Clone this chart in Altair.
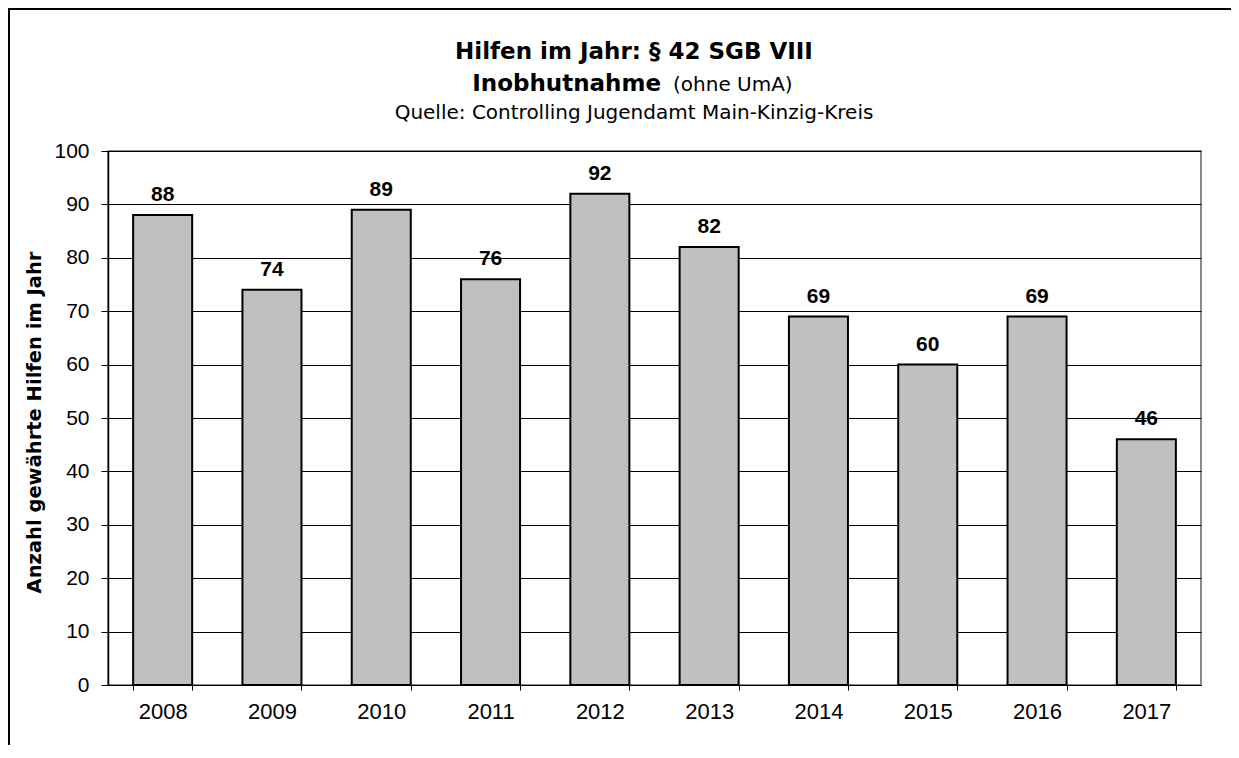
import altair as alt
import pandas as pd

# --- data ---
years = ["2008", "2009", "2010", "2011", "2012", "2013", "2014", "2015", "2016", "2017"]
values = [88, 74, 89, 76, 92, 82, 69, 60, 69, 46]
y_ticks = [0, 10, 20, 30, 40, 50, 60, 70, 80, 90, 100]

title_line1 = "Hilfen im Jahr: § 42 SGB VIII"
title_line2_bold = "Inobhutnahme"
title_line2_regular = "(ohne UmA)"
title_line3 = "Quelle: Controlling Jugendamt Main-Kinzig-Kreis"
y_title = "Anzahl gewährte Hilfen im Jahr"

df = pd.DataFrame({"year": years, "value": values})

W, H = 1093, 534

x_enc = alt.X(
    "year:N",
    sort=years,
    scale=alt.Scale(paddingInner=0.46, paddingOuter=0.23),
    axis=alt.Axis(
        title=None,
        labelAngle=0,
        tickBand="extent",
        ticks=True,
        tickSize=5,
        tickColor="black",
        domainColor="black",
        domainWidth=1,
        labelPadding=11,
        labelFont="Liberation Sans",
        labelFontSize=22,
        labelColor="black",
        grid=False,
    ),
)

y_enc = alt.Y(
    "value:Q",
    scale=alt.Scale(domain=[0, 100]),
    axis=alt.Axis(
        values=y_ticks,
        title=y_title,
        titleFont="DejaVu Sans",
        titleFontSize=19.5,
        titleFontWeight="bold",
        titleColor="black",
        titleAngle=270,
        titleAlign="center",
        titleBaseline="middle",
        titleX=-74,
        titleY=271,
        tickSize=7,
        tickColor="black",
        domainColor="black",
        domainWidth=1.5,
        labelPadding=12,
        labelFont="Liberation Sans",
        labelFontSize=21,
        labelColor="black",
        grid=True,
        gridColor="black",
        gridWidth=1,
    ),
)

base = alt.Chart(df)

bars = base.mark_bar(fill="#c0c0c0", stroke="black", strokeWidth=2).encode(
    x=x_enc, y=y_enc
)

labels = base.mark_text(
    font="Liberation Sans",
    fontSize=21,
    fontWeight="bold",
    baseline="alphabetic",
    dy=-14,
    color="black",
).encode(x=alt.X("year:N", sort=years), y="value:Q", text="value:Q")

one = pd.DataFrame({"k": [0]})


def text_layer(txt, x, y, size, weight, align, font="DejaVu Sans"):
    return (
        alt.Chart(pd.DataFrame({"t": [txt]}))
        .mark_text(
            font=font,
            fontSize=size,
            fontWeight=weight,
            align=align,
            baseline="alphabetic",
            color="black",
        )
        .encode(x=alt.value(x), y=alt.value(y), text="t:N")
    )


t1 = text_layer(title_line1, 526, -92, 23, "bold", "center")
t2a = text_layer(title_line2_bold, 553, -60, 23, "bold", "right")
t2b = text_layer(title_line2_regular, 565, -60, 20, "normal", "left")
t3 = text_layer(title_line3, 526, -32, 20, "normal", "center")

frame_left = alt.Chart(one).mark_rule(color="black", strokeWidth=2).encode(
    x=alt.value(-99), y=alt.value(-142), y2=alt.value(594)
)
frame_top = alt.Chart(one).mark_rule(color="black", strokeWidth=2).encode(
    x=alt.value(-100), x2=alt.value(1123), y=alt.value(-142)
)

chart = (
    alt.layer(bars, labels, t1, t2a, t2b, t3, frame_left, frame_top)
    .properties(
        width=W,
        height=H,
        autosize=alt.AutoSizeParams(type="none"),
        padding={"left": 100, "top": 143, "right": 30, "bottom": 60},
        background="white",
    )
    .configure_view(stroke="#666666", strokeWidth=1.5)
)

chart.save("out.html", embed_options={"renderer": "svg", "actions": False})
